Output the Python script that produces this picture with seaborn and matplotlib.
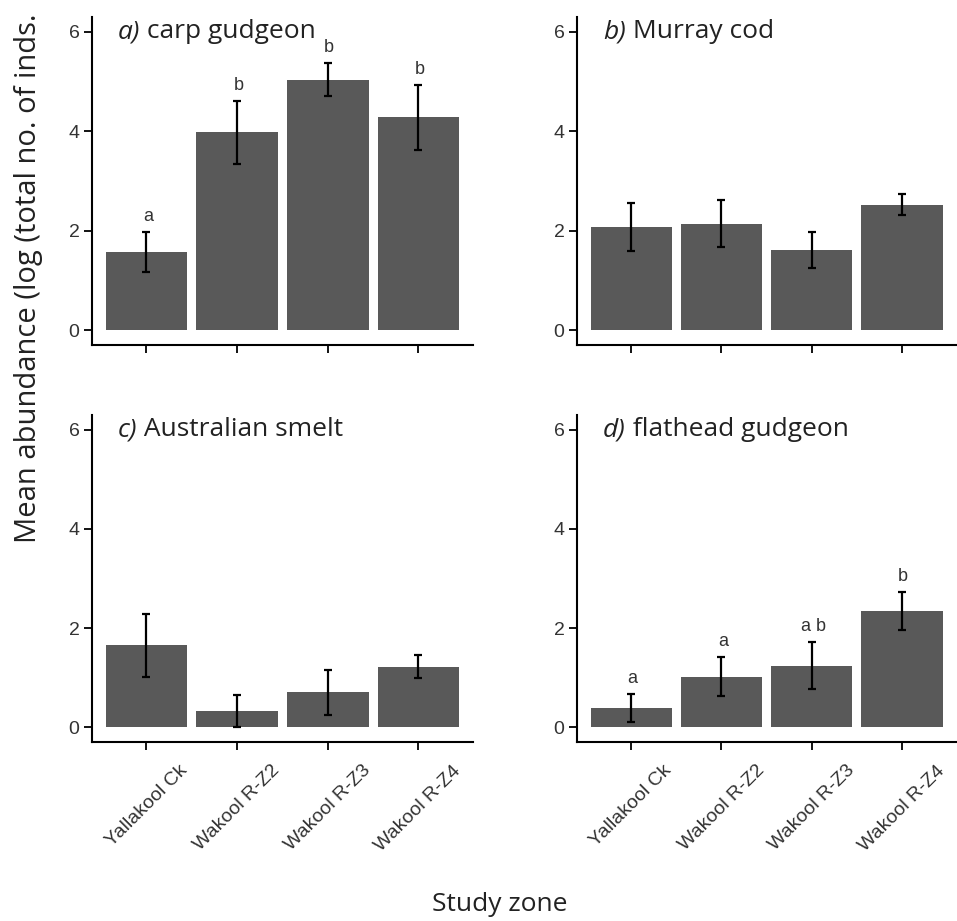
import numpy as np
import pandas as pd
import matplotlib.pyplot as plt
import seaborn as sns

# Step 1: values (mean +/- SE, log scale)
zones = ["Yallakool Ck", "Wakool R-Z2", "Wakool R-Z3", "Wakool R-Z4"]
species = ["carp gudgeon", "Murray cod", "Australian smelt", "flathead gudgeon"]
panel_tags = ["a)", "b)", "c)", "d)"]

carp_mean = [1.57, 3.98, 5.04, 4.28]
carp_se = [0.40, 0.63, 0.33, 0.65]
carp_letters = ["a", "b", "b", "b"]

cod_mean = [2.07, 2.14, 1.61, 2.52]
cod_se = [0.48, 0.47, 0.36, 0.21]
cod_letters = ["", "", "", ""]

smelt_mean = [1.65, 0.32, 0.70, 1.22]
smelt_se = [0.63, 0.32, 0.46, 0.23]
smelt_letters = ["", "", "", ""]

flathead_mean = [0.38, 1.02, 1.24, 2.34]
flathead_se = [0.28, 0.40, 0.47, 0.39]
flathead_letters = ["a", "a", "a b", "b"]

means = [carp_mean, cod_mean, smelt_mean, flathead_mean]
ses = [carp_se, cod_se, smelt_se, flathead_se]
letters = [carp_letters, cod_letters, smelt_letters, flathead_letters]

rows = []
for sp, m, s, l in zip(species, means, ses, letters):
    for z, mv, sv, lv in zip(zones, m, s, l):
        rows.append({"species": sp, "zone": z, "mean": mv, "se": sv, "letter": lv})
df = pd.DataFrame(rows)

# Step 2: style
sns.set_theme(style="ticks")
plt.rcParams["font.family"] = ["Open Sans", "DejaVu Sans"]

fig = plt.figure(figsize=(9.57, 9.21), dpi=100)
rects = [
    [0.0961, 0.6254, 0.398, 0.3561],
    [0.603, 0.6254, 0.396, 0.3561],
    [0.0961, 0.1944, 0.398, 0.355],
    [0.603, 0.1944, 0.396, 0.355],
]

# Step 3: draw the four panels
for i, sp in enumerate(species):
    ax = fig.add_axes(rects[i])
    sub = df[df["species"] == sp]
    sns.barplot(data=sub, x="zone", y="mean", order=zones, color="#595959",
                saturation=1, width=0.9, errorbar=None, linewidth=0, ax=ax)
    xpos = np.arange(len(zones))
    ax.errorbar(xpos, sub["mean"], yerr=sub["se"], fmt="none", ecolor="black",
                elinewidth=1.6, capsize=3, capthick=1.6, zorder=3)
    for x, top, lab in zip(xpos, sub["mean"] + sub["se"], sub["letter"]):
        if lab:
            ax.annotate(lab, (x, top), xytext=(1, 8), textcoords="offset points",
                        ha="center", va="baseline", fontsize=13,
                        family="Liberation Sans", color="#333333")

    ax.set_xlim(-0.6, 3.6)
    ax.set_ylim(-0.3, 6.3)
    ax.set_yticks([0, 2, 4, 6])
    ax.set_xlabel("")
    ax.set_ylabel("")
    sns.despine(ax=ax)
    for side in ["left", "bottom"]:
        ax.spines[side].set_linewidth(1.5)
        ax.spines[side].set_color("black")
    ax.tick_params(length=5.5, width=1.3, color="black", labelcolor="#333333",
                   labelsize=14)
    for t in ax.get_yticklabels():
        t.set_family("Liberation Sans")
    ax.set_xticks(xpos)
    if i >= 2:
        ax.set_xticklabels(zones, rotation=45, ha="center", fontsize=14,
                           family="Liberation Sans", color="#333333")
        ax.tick_params(axis="x", pad=9)
    else:
        ax.set_xticklabels([])

    # panel title: italic tag followed by species name
    tag = ax.text(0.068, 0.955, panel_tags[i], transform=ax.transAxes,
                  ha="left", va="center", fontsize=19, style="italic",
                  color="#222222")
    ax.annotate(" " + sp, xy=(1, 0), xycoords=tag, ha="left", va="bottom",
                fontsize=19, color="#222222")

# Step 4: shared axis titles
fig.text(0.030, 0.41, "Mean abundance (log (total no. of inds.", rotation=90,
         ha="center", va="bottom", fontsize=21, color="#222222")
fig.text(0.522, 0.004, "Study zone", ha="center", va="bottom", fontsize=19,
         color="#222222")

fig.savefig("out.png", dpi=100)
